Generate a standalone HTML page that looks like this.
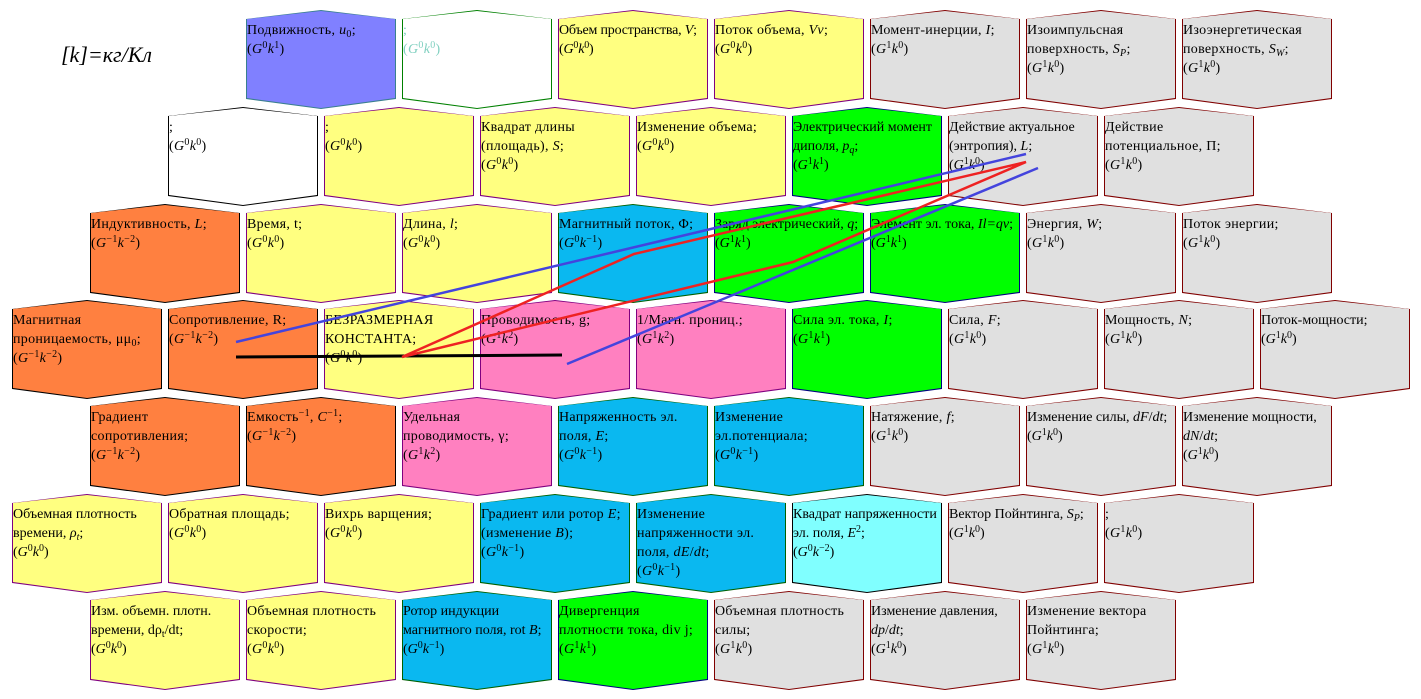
<!DOCTYPE html>
<html><head><meta charset="utf-8"><style>
body{margin:0;width:1421px;height:699px;background:#fff;position:relative;overflow:hidden;font-family:"Liberation Serif",serif;}
.c{position:absolute;width:150px;height:99px;background:var(--b,#800080);clip-path:polygon(0 9px,50% 0,100% 9px,100% 89px,50% 99px,0 89px);}
.c::before{content:"";position:absolute;left:1px;top:1px;right:1px;bottom:1px;background:var(--f,#ffff80);clip-path:polygon(0 8px,50% 0,100% 8px,100% 87px,50% 97px,0 87px);}
.c span{position:relative;display:block;padding:11px 2px 0 1px;font-size:14px;letter-spacing:0.3px;line-height:19px;color:#000;}
i{font-style:italic}
sup{font-size:10px;vertical-align:5px;line-height:0}
sub{font-size:10px;vertical-align:-3px;line-height:0}
.y{--f:#ffff80;--b:#800080}.g{--f:#e0e0e0;--b:#800000}.o{--f:#ff8040;--b:#000}.cy{--f:#0ab8f0;--b:#006000}.gr{--f:#00ff00;--b:#000080}.p{--f:#ff80c0;--b:#800080}.w{--f:#fff;--b:#000}
</style></head><body>
<div style="position:absolute;left:61px;top:42px;font-size:22px;font-style:italic;">[k]=кг/Кл</div>

<div class="c" style="left:246px;top:10px;--f:#8080ff;--b:#3a7f8f"><span>Подвижность, <i>u</i><sub>0</sub>;<br>(<i>G</i><sup>0</sup><i>k</i><sup>1</sup>)</span></div>
<div class="c" style="left:402px;top:10px;--f:#fff;--b:#008000"><span style="color:#80d0c0">;<br>(<i>G</i><sup>0</sup><i>k</i><sup>0</sup>)</span></div>
<div class="c y" style="left:558px;top:10px"><span style="letter-spacing:-0.2px">Объем пространства, <i>V</i>;<br>(<i>G</i><sup>0</sup><i>k</i><sup>0</sup>)</span></div>
<div class="c y" style="left:714px;top:10px"><span>Поток объема, <i>Vv</i>;<br>(<i>G</i><sup>0</sup><i>k</i><sup>0</sup>)</span></div>
<div class="c g" style="left:870px;top:10px"><span>Момент-инерции, <i>I</i>;<br>(<i>G</i><sup>1</sup><i>k</i><sup>0</sup>)</span></div>
<div class="c g" style="left:1026px;top:10px"><span>Изоимпульсная поверхность, <i>S<sub>P</sub></i>;<br>(<i>G</i><sup>1</sup><i>k</i><sup>0</sup>)</span></div>
<div class="c g" style="left:1182px;top:10px"><span>Изоэнергетическая поверхность, <i>S<sub>W</sub></i>;<br>(<i>G</i><sup>1</sup><i>k</i><sup>0</sup>)</span></div>

<div class="c w" style="left:168px;top:107px"><span>;<br>(<i>G</i><sup>0</sup><i>k</i><sup>0</sup>)</span></div>
<div class="c y" style="left:324px;top:107px"><span>;<br>(<i>G</i><sup>0</sup><i>k</i><sup>0</sup>)</span></div>
<div class="c y" style="left:480px;top:107px"><span>Квадрат длины (площадь), <i>S</i>;<br>(<i>G</i><sup>0</sup><i>k</i><sup>0</sup>)</span></div>
<div class="c y" style="left:636px;top:107px"><span>Изменение объема;<br>(<i>G</i><sup>0</sup><i>k</i><sup>0</sup>)</span></div>
<div class="c gr" style="left:792px;top:107px"><span style="letter-spacing:0">Электрический момент диполя, <i>p<sub>q</sub></i>;<br>(<i>G</i><sup>1</sup><i>k</i><sup>1</sup>)</span></div>
<div class="c g" style="left:948px;top:107px"><span style="letter-spacing:0">Действие актуальное (энтропия), <i>L</i>;<br>(<i>G</i><sup>1</sup><i>k</i><sup>0</sup>)</span></div>
<div class="c g" style="left:1104px;top:107px"><span>Действие потенциальное, П;<br>(<i>G</i><sup>1</sup><i>k</i><sup>0</sup>)</span></div>

<div class="c o" style="left:90px;top:204px"><span>Индуктивность, <i>L</i>;<br>(<i>G</i><sup>−1</sup><i>k</i><sup>−2</sup>)</span></div>
<div class="c y" style="left:246px;top:204px"><span>Время, t;<br>(<i>G</i><sup>0</sup><i>k</i><sup>0</sup>)</span></div>
<div class="c y" style="left:402px;top:204px"><span>Длина, <i>l</i>;<br>(<i>G</i><sup>0</sup><i>k</i><sup>0</sup>)</span></div>
<div class="c cy" style="left:558px;top:204px"><span>Магнитный поток, Φ;<br>(<i>G</i><sup>0</sup><i>k</i><sup>−1</sup>)</span></div>
<div class="c gr" style="left:714px;top:204px"><span style="letter-spacing:0">Заряд электрический, <i>q</i>;<br>(<i>G</i><sup>1</sup><i>k</i><sup>1</sup>)</span></div>
<div class="c gr" style="left:870px;top:204px"><span style="letter-spacing:0">Элемент эл. тока, <i>Il=qv</i>;<br>(<i>G</i><sup>1</sup><i>k</i><sup>1</sup>)</span></div>
<div class="c g" style="left:1026px;top:204px"><span>Энергия, <i>W</i>;<br>(<i>G</i><sup>1</sup><i>k</i><sup>0</sup>)</span></div>
<div class="c g" style="left:1182px;top:204px"><span>Поток энергии;<br>(<i>G</i><sup>1</sup><i>k</i><sup>0</sup>)</span></div>

<div class="c o" style="left:12px;top:300px"><span>Магнитная проницаемость, μμ<sub>0</sub>;<br>(<i>G</i><sup>−1</sup><i>k</i><sup>−2</sup>)</span></div>
<div class="c o" style="left:168px;top:300px"><span>Сопротивление, R;<br>(<i>G</i><sup>−1</sup><i>k</i><sup>−2</sup>)</span></div>
<div class="c y" style="left:324px;top:300px"><span>БЕЗРАЗМЕРНАЯ КОНСТАНТА;<br>(<i>G</i><sup>0</sup><i>k</i><sup>0</sup>)</span></div>
<div class="c p" style="left:480px;top:300px"><span>Проводимость, g;<br>(<i>G</i><sup>1</sup><i>k</i><sup>2</sup>)</span></div>
<div class="c p" style="left:636px;top:300px"><span>1/Магн. прониц.;<br>(<i>G</i><sup>1</sup><i>k</i><sup>2</sup>)</span></div>
<div class="c gr" style="left:792px;top:300px"><span>Сила эл. тока, <i>I</i>;<br>(<i>G</i><sup>1</sup><i>k</i><sup>1</sup>)</span></div>
<div class="c g" style="left:948px;top:300px"><span>Сила, <i>F</i>;<br>(<i>G</i><sup>1</sup><i>k</i><sup>0</sup>)</span></div>
<div class="c g" style="left:1104px;top:300px"><span>Мощность, <i>N</i>;<br>(<i>G</i><sup>1</sup><i>k</i><sup>0</sup>)</span></div>
<div class="c g" style="left:1260px;top:300px"><span style="letter-spacing:0">Поток-мощности;<br>(<i>G</i><sup>1</sup><i>k</i><sup>0</sup>)</span></div>

<div class="c o" style="left:90px;top:397px"><span>Градиент сопротивления;<br>(<i>G</i><sup>−1</sup><i>k</i><sup>−2</sup>)</span></div>
<div class="c o" style="left:246px;top:397px"><span>Емкость<sup>−1</sup>, <i>C</i><sup>−1</sup>;<br>(<i>G</i><sup>−1</sup><i>k</i><sup>−2</sup>)</span></div>
<div class="c p" style="left:402px;top:397px"><span>Удельная проводимость, γ;<br>(<i>G</i><sup>1</sup><i>k</i><sup>2</sup>)</span></div>
<div class="c cy" style="left:558px;top:397px"><span>Напряженность эл. поля, <i>E</i>;<br>(<i>G</i><sup>0</sup><i>k</i><sup>−1</sup>)</span></div>
<div class="c cy" style="left:714px;top:397px"><span>Изменение эл.потенциала;<br>(<i>G</i><sup>0</sup><i>k</i><sup>−1</sup>)</span></div>
<div class="c g" style="left:870px;top:397px"><span>Натяжение, <i>f</i>;<br>(<i>G</i><sup>1</sup><i>k</i><sup>0</sup>)</span></div>
<div class="c g" style="left:1026px;top:397px"><span style="letter-spacing:0">Изменение силы, <i>dF</i>/<i>dt</i>;<br>(<i>G</i><sup>1</sup><i>k</i><sup>0</sup>)</span></div>
<div class="c g" style="left:1182px;top:397px"><span style="letter-spacing:0">Изменение мощности, <i>dN</i>/<i>dt</i>;<br>(<i>G</i><sup>1</sup><i>k</i><sup>0</sup>)</span></div>

<div class="c y" style="left:12px;top:494px"><span style="letter-spacing:0">Объемная плотность времени, <i>ρ<sub>t</sub></i>;<br>(<i>G</i><sup>0</sup><i>k</i><sup>0</sup>)</span></div>
<div class="c y" style="left:168px;top:494px"><span>Обратная площадь;<br>(<i>G</i><sup>0</sup><i>k</i><sup>0</sup>)</span></div>
<div class="c y" style="left:324px;top:494px"><span>Вихрь варщения;<br>(<i>G</i><sup>0</sup><i>k</i><sup>0</sup>)</span></div>
<div class="c cy" style="left:480px;top:494px"><span>Градиент или ротор <i>E</i>; (изменение <i>B</i>);<br>(<i>G</i><sup>0</sup><i>k</i><sup>−1</sup>)</span></div>
<div class="c cy" style="left:636px;top:494px"><span>Изменение напряженности эл. поля, <i>dE</i>/<i>dt</i>;<br>(<i>G</i><sup>0</sup><i>k</i><sup>−1</sup>)</span></div>
<div class="c" style="left:792px;top:494px;--f:#80ffff;--b:#000"><span style="letter-spacing:0">Квадрат напряженности эл. поля, <i>E</i><sup>2</sup>;<br>(<i>G</i><sup>0</sup><i>k</i><sup>−2</sup>)</span></div>
<div class="c g" style="left:948px;top:494px"><span style="letter-spacing:0">Вектор Пойнтинга, <i>S<sub>P</sub></i>;<br>(<i>G</i><sup>1</sup><i>k</i><sup>0</sup>)</span></div>
<div class="c g" style="left:1104px;top:494px"><span>;<br>(<i>G</i><sup>1</sup><i>k</i><sup>0</sup>)</span></div>

<div class="c y" style="left:90px;top:591px"><span style="letter-spacing:0">Изм. объемн. плотн. времени, dρ<sub>t</sub>/dt;<br>(<i>G</i><sup>0</sup><i>k</i><sup>0</sup>)</span></div>
<div class="c y" style="left:246px;top:591px"><span>Объемная плотность скорости;<br>(<i>G</i><sup>0</sup><i>k</i><sup>0</sup>)</span></div>
<div class="c cy" style="left:402px;top:591px"><span style="letter-spacing:0">Ротор индукции магнитного поля, rot <i>B</i>;<br>(<i>G</i><sup>0</sup><i>k</i><sup>−1</sup>)</span></div>
<div class="c gr" style="left:558px;top:591px"><span>Дивергенция плотности тока, div j;<br>(<i>G</i><sup>1</sup><i>k</i><sup>1</sup>)</span></div>
<div class="c g" style="left:714px;top:591px"><span>Объемная плотность силы;<br>(<i>G</i><sup>1</sup><i>k</i><sup>0</sup>)</span></div>
<div class="c g" style="left:870px;top:591px"><span style="letter-spacing:0">Изменение давления, <i>dp</i>/<i>dt</i>;<br>(<i>G</i><sup>1</sup><i>k</i><sup>0</sup>)</span></div>
<div class="c g" style="left:1026px;top:591px"><span>Изменение вектора Пойнтинга;<br>(<i>G</i><sup>1</sup><i>k</i><sup>0</sup>)</span></div>

<svg style="position:absolute;left:0;top:0" width="1421" height="699">
<line x1="236" y1="357" x2="562" y2="355" stroke="#000" stroke-width="3"/>
<line x1="236" y1="342" x2="1026" y2="154" stroke="#4444dd" stroke-width="2.5"/>
<line x1="567" y1="364" x2="1038" y2="168" stroke="#4444dd" stroke-width="2.5"/>
<polyline points="402,357 634,254 1026,162 793,262 402,357" fill="none" stroke="#ee2222" stroke-width="2.5"/>
</svg>
</body></html>
